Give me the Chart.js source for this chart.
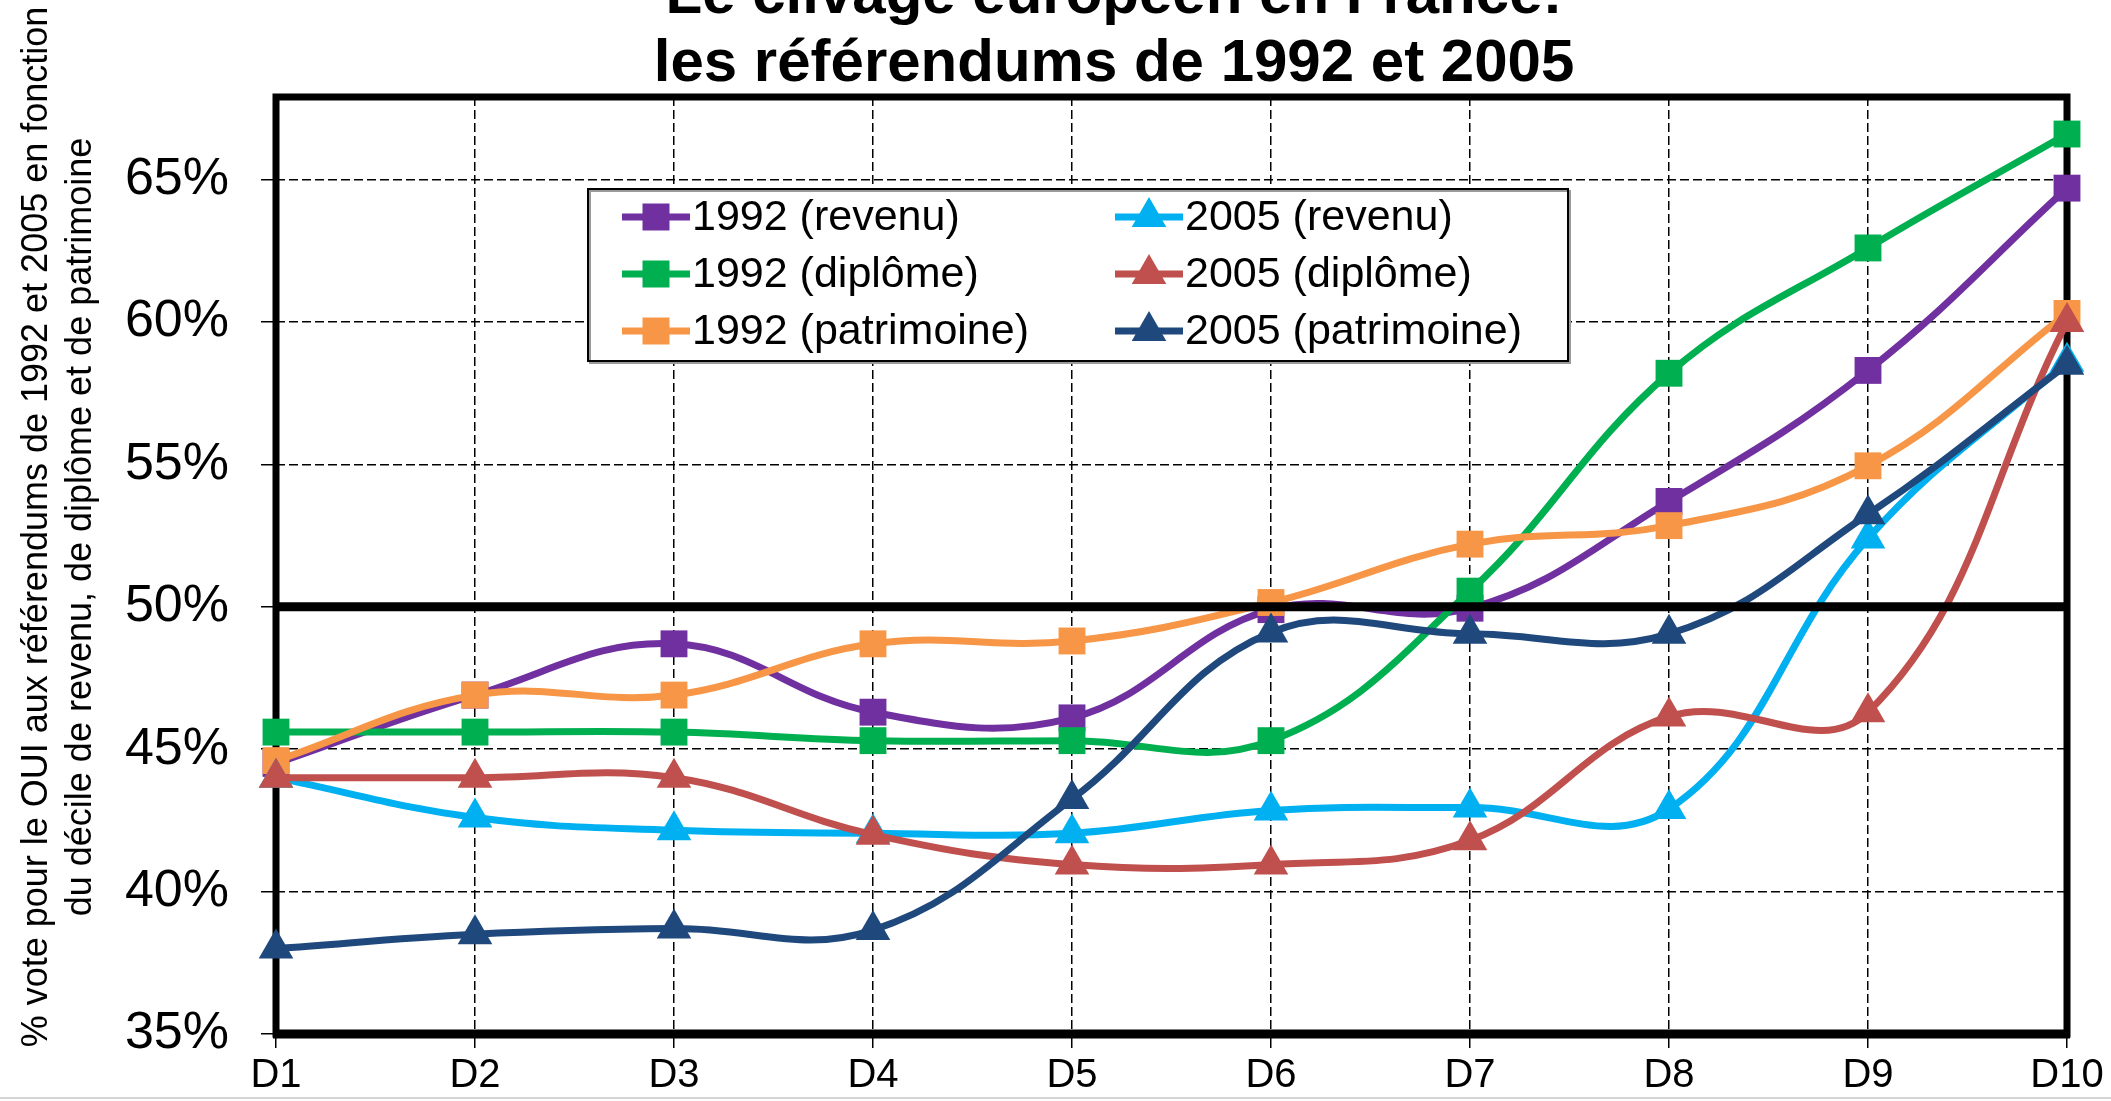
<!DOCTYPE html>
<html>
<head>
<meta charset="utf-8">
<script src="https://cdn.jsdelivr.net/npm/chart.js@4.4.1/dist/chart.umd.min.js"></script>
<style>
body { margin: 0; background: #fff; }
#wrap { position: relative; width: 2111px; height: 1101px; overflow: hidden; }
#bottomLine { position: absolute; left: 0; top: 1097px; width: 2111px; height: 2px; background: #d4d4d4; }
</style>
</head>
<body>
<div id="wrap"><canvas id="myChart"></canvas><div id="bottomLine"></div></div>
<script>
// deciles on the x axis
var deciles = ['D1', 'D2', 'D3', 'D4', 'D5', 'D6', 'D7', 'D8', 'D9', 'D10'];

// % OUI
var revenu1992     = [44.5, 46.9, 48.7, 46.3, 46.1, 49.9, 49.95, 53.7, 58.3, 64.7];
var diplome1992    = [45.6, 45.6, 45.6, 45.3, 45.3, 45.3, 50.55, 58.2, 62.6, 66.6];
var patrimoine1992 = [44.6, 46.9, 46.9, 48.7, 48.8, 50.15, 52.2, 52.85, 54.95, 60.3];
var revenu2005     = [44.0, 42.6, 42.15, 42.05, 42.05, 42.85, 42.95, 42.9, 52.4, 58.6];
var diplome2005    = [44.0, 44.0, 44.0, 42.0, 40.95, 40.95, 41.8, 46.15, 46.3, 60.0];
var patrimoine2005 = [38.0, 38.5, 38.7, 38.65, 43.25, 49.1, 49.05, 49.05, 53.25, 58.5];

var seriesNames = ['1992 (revenu)', '1992 (diplôme)', '1992 (patrimoine)',
                   '2005 (revenu)', '2005 (diplôme)', '2005 (patrimoine)'];
var seriesData = [revenu1992, diplome1992, patrimoine1992, revenu2005, diplome2005, patrimoine2005];
var seriesColors = ['#7030A0', '#00B050', '#F79646', '#00B0F0', '#C0504D', '#1F497D'];

var titleLines = ['Le clivage européen en France:', 'les référendums de 1992 et 2005'];
var yTitleLines = ['% vote pour le OUI aux référendums de 1992 et 2005 en fonction',
                   'du décile de revenu, de diplôme et de patrimoine'];

var FONT = '"Liberation Sans", Arial, sans-serif';

/* frame round the plot area, drawn under the lines */
var framePlugin = {
    id: 'frame',
    beforeDatasetsDraw: function(chart) {
        var a = chart.chartArea, c = chart.ctx;
        c.save();
        c.strokeStyle = '#000';
        c.lineWidth = 7;
        c.strokeRect(a.left, a.top, a.right - a.left, a.bottom - a.top);
        c.lineWidth = 9;
        c.beginPath();
        c.moveTo(a.left - 3, a.bottom);
        c.lineTo(a.right + 3, a.bottom);
        c.stroke();
        c.restore();
    },
    afterDatasetsDraw: function(chart) {
        // thick 50% line over the series
        var a = chart.chartArea, c = chart.ctx;
        var y = chart.scales.y.getPixelForValue(50);
        c.save();
        c.strokeStyle = '#000';
        c.lineWidth = 9;
        c.beginPath();
        c.moveTo(a.left, y);
        c.lineTo(a.right + 3, y);
        c.stroke();
        c.restore();
    }
};

function drawMarker(c, style, x, y, color) {
    c.fillStyle = color;
    c.beginPath();
    if (style === 'rect') {
        c.rect(x - 13.5, y - 13.5, 27, 27);
    } else {
        c.moveTo(x, y - 20);
        c.lineTo(x + 17.3, y + 10);
        c.lineTo(x - 17.3, y + 10);
        c.closePath();
    }
    c.fill();
}

/* legend box inside the plot, 2 columns x 3 rows */
var legendPlugin = {
    id: 'boxLegend',
    afterDraw: function(chart) {
        var c = chart.ctx;
        var bx = 588, by = 189, bw = 980, bh = 172;
        c.save();
        c.fillStyle = '#fff';
        c.fillRect(bx, by, bw, bh);
        c.strokeStyle = '#9a9a9a';
        c.lineWidth = 2;
        c.strokeRect(bx + 2, by + 2, bw, bh);
        c.strokeStyle = '#000';
        c.strokeRect(bx, by, bw, bh);
        c.font = '43px ' + FONT;
        c.textBaseline = 'middle';
        c.textAlign = 'left';
        var rowsY = [217, 274, 331];
        var colsX = [622, 1115];
        chart.data.datasets.forEach(function(ds, i) {
            var col = Math.floor(i / 3), row = i % 3;
            var x0 = colsX[col], y0 = rowsY[row];
            c.strokeStyle = ds.borderColor;
            c.lineWidth = 7;
            c.beginPath();
            c.moveTo(x0, y0);
            c.lineTo(x0 + 68, y0);
            c.stroke();
            drawMarker(c, ds.pointStyle, x0 + 34, y0, ds.borderColor);
            c.fillStyle = '#000';
            c.fillText(ds.label, x0 + 70, y0 + 1);
        });
        c.restore();
    }
};

/* chart title (top line partly cut off) and two-line y title */
var titlesPlugin = {
    id: 'titles',
    afterDraw: function(chart) {
        var c = chart.ctx;
        c.save();
        c.fillStyle = '#000';
        c.textAlign = 'center';
        c.textBaseline = 'alphabetic';
        c.font = 'bold 60px ' + FONT;
        c.fillText(titleLines[0], 1114, 13);
        c.fillText(titleLines[1], 1114, 81);
        c.font = '36px ' + FONT;
        c.textBaseline = 'middle';
        c.translate(0, 527);
        c.rotate(-Math.PI / 2);
        c.fillText(yTitleLines[0], 0, 37);
        c.fillText(yTitleLines[1], 0, 81);
        c.restore();
    }
};

var datasets = seriesData.map(function(d, i) {
    return {
        label: seriesNames[i],
        data: d,
        borderColor: seriesColors[i],
        backgroundColor: seriesColors[i],
        borderWidth: 7,
        tension: 0.4,
        pointStyle: i < 3 ? 'rect' : 'triangle',
        pointRadius: i < 3 ? 19 : 20,
        pointBorderWidth: 0,
        pointBackgroundColor: seriesColors[i],
        order: 5 - i,
        clip: false
    };
});

var ctx = document.querySelector('#myChart').getContext('2d');
var myChart = new Chart(ctx, {
    type: 'line',
    data: { labels: deciles, datasets: datasets },
    options: {
        responsive: true,
        maintainAspectRatio: false,
        animation: false,
        layout: { padding: { top: 97, right: 44, left: 0, bottom: 0 } },
        plugins: {
            legend: { display: false },
            title: { display: false },
            tooltip: { enabled: false }
        },
        scales: {
            x: {
                offset: false,
                grid: { color: '#000', lineWidth: 1.5, tickLength: 14, tickColor: '#000', tickWidth: 1.5, tickBorderDash: [] },
                border: { display: false, dash: [9, 4] },
                ticks: { color: '#000', font: { family: FONT, size: 40 }, padding: 4, maxRotation: 0, autoSkip: false },
                afterFit: function(s) { s.height = 67; }
            },
            y: {
                min: 35,
                max: 67.9,
                grid: { color: '#000', lineWidth: 1.5, tickLength: 15, tickColor: '#000', tickWidth: 1.5, tickBorderDash: [] },
                border: { display: false, dash: [9, 4] },
                ticks: {
                    stepSize: 5,
                    color: '#000',
                    font: { family: FONT, size: 52 },
                    padding: 32,
                    callback: function(v) { return v + '%'; }
                },
                afterBuildTicks: function(s) {
                    s.ticks = s.ticks.filter(function(t) { return t.value % 5 === 0; });
                },
                afterFit: function(s) { s.width = 276; }
            }
        }
    },
    plugins: [framePlugin, legendPlugin, titlesPlugin]
});
</script>
</body>
</html>
